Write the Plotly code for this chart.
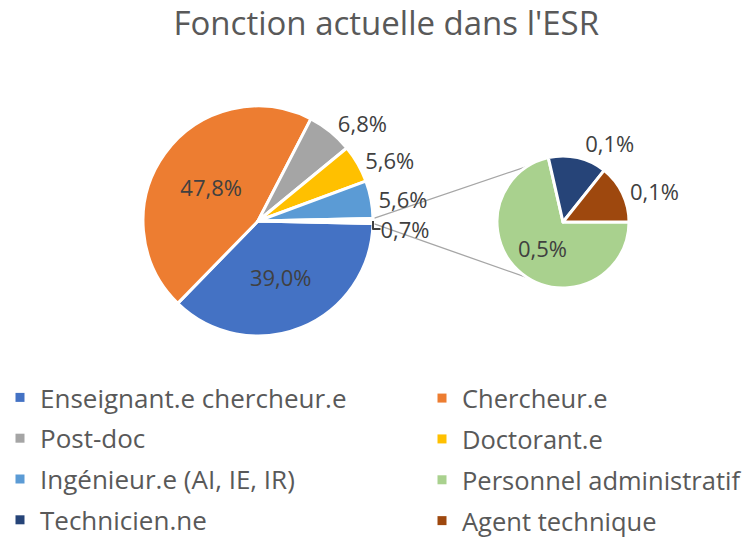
import math
import plotly.graph_objects as go

# ---- data ----
main_labels = ["Enseignant.e chercheur.e", "Chercheur.e", "Post-doc", "Doctorant.e",
               "Ingénieur.e (AI, IE, IR)", "Autres"]
main_values = [39.0, 47.8, 6.8, 5.6, 5.6, 0.7]
main_text = ["39,0%", "47,8%", "6,8%", "5,6%", "5,6%", "0,7%"]

sub_labels = ["Personnel administratif", "Technicien.ne", "Agent technique"]
sub_values = [0.5, 0.1, 0.1]
sub_text = ["0,5%", "0,1%", "0,1%"]

legend_labels = ["Enseignant.e chercheur.e", "Chercheur.e", "Post-doc", "Doctorant.e",
                 "Ingénieur.e (AI, IE, IR)", "Personnel administratif",
                 "Technicien.ne", "Agent technique"]

# ---- styles ----
main_colors = ["#4472C4", "#ED7D31", "#A5A5A5", "#FFC000", "#5B9BD5", "#FFFFFF"]
sub_colors = ["#A9D18E", "#264478", "#9E480E"]
legend_colors = ["#4472C4", "#ED7D31", "#A5A5A5", "#FFC000", "#5B9BD5",
                 "#A9D18E", "#264478", "#9E480E"]
FONT = "Open Sans"
TXT = "#404040"

W, H = 750, 544
# pie geometry in pixels (center x, center y from top, radius)
mcx, mcy, mr = 258, 221, 115
scx, scy, sr = 563, 222, 66


def dom(cx, cy, r):
    return dict(x=[(cx - r) / W, (cx + r) / W], y=[1 - (cy + r) / H, 1 - (cy - r) / H])


other_frac = main_values[-1] / sum(main_values)
main_rot = 90 + other_frac * 360 / 2

fig = go.Figure()
fig.add_trace(go.Pie(
    labels=main_labels, values=main_values, text=main_text, textinfo="text",
    sort=False, direction="clockwise", rotation=main_rot,
    marker=dict(colors=main_colors, line=dict(color="white", width=3)),
    textposition=["inside", "inside", "outside", "outside", "outside", "outside"],
    insidetextorientation="horizontal",
    textfont=dict(family=FONT, size=22, color=TXT),
    domain=dom(mcx, mcy, mr), showlegend=False, hoverinfo="label+text",
))
fig.add_trace(go.Pie(
    labels=sub_labels, values=sub_values, text=sub_text, textinfo="text",
    sort=False, direction="clockwise", rotation=90,
    marker=dict(colors=sub_colors, line=dict(color="white", width=3)),
    textposition=["inside", "outside", "outside"],
    insidetextorientation="horizontal",
    textfont=dict(family=FONT, size=22, color=TXT),
    domain=dom(scx, scy, sr), showlegend=False, hoverinfo="label+text",
))

# legend entries: left column in "legend", right column in "legend2"
for i, (lab, col) in enumerate(zip(legend_labels, legend_colors)):
    fig.add_trace(go.Scatter(
        x=[None], y=[None], mode="markers", name=lab,
        legend="legend" if i % 2 == 0 else "legend2",
        legendgroup=f"g{i}",
        marker=dict(symbol="square", size=9, color=col),
        showlegend=True, hoverinfo="skip"))

# connector lines from the "other" slice to the secondary pie
half = other_frac * 2 * math.pi / 2
p_up = (mcx + mr * math.cos(half), mcy - mr * math.sin(half))
p_dn = (mcx + mr * math.cos(-half), mcy - mr * math.sin(-half))
a = math.radians(122)
q_up = (scx + sr * math.cos(a), scy - sr * math.sin(a))
q_dn = (scx + sr * math.cos(-a), scy - sr * math.sin(-a))
for p, q in [(p_up, q_up), (p_dn, q_dn)]:
    fig.add_shape(type="line", xref="paper", yref="paper",
                  x0=p[0] / W, y0=1 - p[1] / H, x1=q[0] / W, y1=1 - q[1] / H,
                  line=dict(color="#A6A6A6", width=1.3), layer="below")

leg_common = dict(orientation="v", xanchor="left", yanchor="bottom", y=0,
                  traceorder="grouped", bgcolor="rgba(0,0,0,0)")

fig.update_layout(
    width=W, height=H, margin=dict(l=0, r=0, t=0, b=0),
    paper_bgcolor="white", plot_bgcolor="white",
    xaxis=dict(visible=False), yaxis=dict(visible=False),
    title=dict(text="Fonction actuelle dans l'ESR", x=0.515, xanchor="center",
               y=1 - 23 / H, yanchor="middle",
               font=dict(family=FONT, size=33, color="#595959")),
    legend=dict(x=0.0, tracegroupgap=4,
                font=dict(family=FONT, size=26, color="#595959"), **leg_common),
    legend2=dict(x=422 / W, tracegroupgap=4.7,
                 font=dict(family=FONT, size=25.5, color="#595959"), **leg_common),
    showlegend=True,
)

fig.write_html("out.html", config={"displayModeBar": False},
               post_script="document.body.style.margin='0px';")
